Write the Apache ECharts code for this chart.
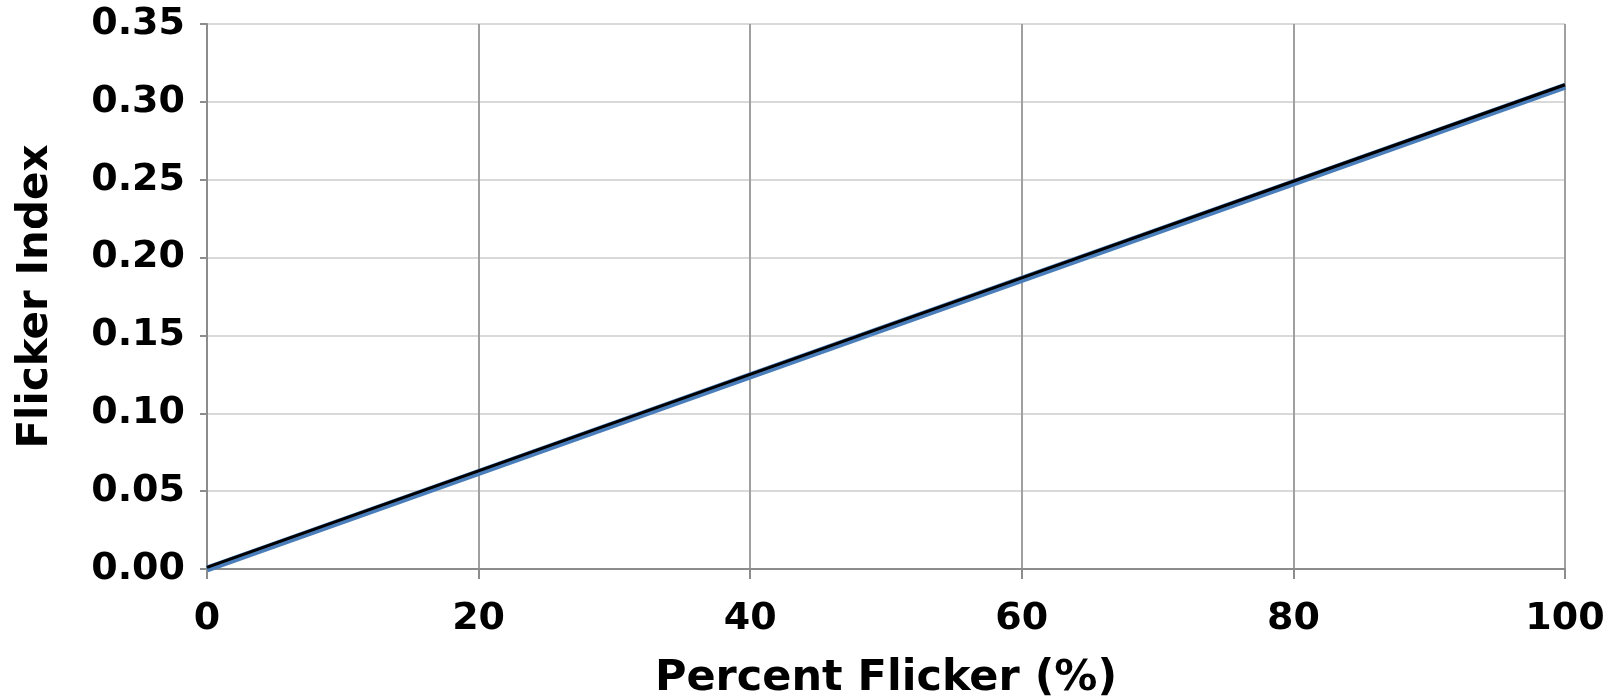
<!DOCTYPE html>
<html>
<head>
<meta charset="utf-8">
<script src="https://cdn.jsdelivr.net/npm/echarts@6/dist/echarts.min.js"></script>
<style>
  html, body { margin: 0; padding: 0; background: #fff; }
  #chart { width: 1612px; height: 700px; }
</style>
</head>
<body>
<div id="chart"></div>
<script>
// --- Data ---
const percentFlicker = [0, 20, 40, 60, 80, 100];
const indexMeasured = [0.0, 0.062, 0.124, 0.186, 0.248, 0.310];
const indexFit = [0.001, 0.063, 0.125, 0.187, 0.249, 0.311];

const font = 'DejaVu Sans, Verdana, sans-serif';

const chart = echarts.init(document.getElementById('chart'));

const option = {
    animation: false,
    grid: { left: 207, right: 47, top: 24, bottom: 131, outerBoundsMode: 'none' },
    xAxis: {
        type: 'value', min: 0, max: 100, interval: 20,
        name: 'Percent Flicker (%)', nameLocation: 'middle', nameGap: 88,
        nameTextStyle: { fontFamily: font, fontWeight: 'bold', fontSize: 43, color: '#000' },
        axisLine: { show: true, lineStyle: { color: '#8c8c8c', width: 2 } },
        axisTick: { show: true, length: 10, lineStyle: { color: '#8c8c8c', width: 2 } },
        axisLabel: { margin: 31, fontFamily: font, fontWeight: 'bold', fontSize: 38, color: '#000' },
        splitLine: { show: true, lineStyle: { color: '#a0a0a0', width: 2 } }
    },
    yAxis: {
        type: 'value', min: 0, max: 0.35, interval: 0.05,
        name: 'Flicker Index', nameLocation: 'middle', nameGap: 150,
        nameTextStyle: { fontFamily: font, fontWeight: 'bold', fontSize: 42, color: '#000' },
        axisLine: { show: true, lineStyle: { color: '#8c8c8c', width: 2 } },
        axisTick: { show: true, length: 7, lineStyle: { color: '#8c8c8c', width: 2 } },
        axisLabel: {
            margin: 22, fontFamily: font, fontWeight: 'bold', fontSize: 38, color: '#000',
            formatter: v => v.toFixed(2)
        },
        splitLine: { show: true, lineStyle: { color: '#d9d9d9', width: 2 } }
    },
    series: [
        {
            name: 'Measured', type: 'line', symbol: 'none', z: 2,
            data: percentFlicker.map((x, i) => [x, indexMeasured[i]]),
            lineStyle: { color: '#4a7ebb', width: 7 }
        },
        {
            name: 'Fit', type: 'line', symbol: 'none', z: 3,
            data: percentFlicker.map((x, i) => [x, indexFit[i]]),
            lineStyle: { color: '#000', width: 3 }
        }
    ]
};
chart.setOption(option);
</script>
</body>
</html>
